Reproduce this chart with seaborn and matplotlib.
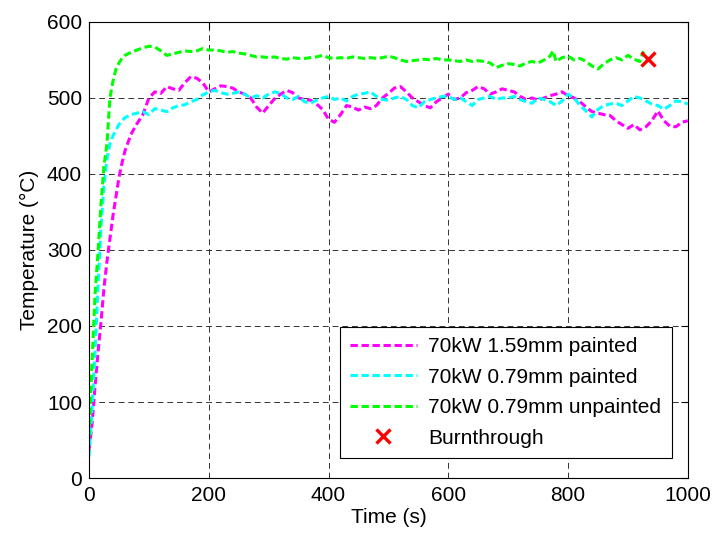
import numpy as np
import pandas as pd
import matplotlib
matplotlib.use("Agg")
import matplotlib.pyplot as plt
import seaborn as sns

# ---- data ----
t_full = [0, 5, 10, 15, 20, 25, 30, 35, 40, 45, 50, 55, 60, 70, 80, 90, 100,
          110, 120, 130, 140, 150, 160, 170, 180, 190, 200, 210, 220, 230, 240,
          250, 260, 270, 280, 290, 300, 310, 320, 330, 340, 350, 360, 370, 380,
          390, 400, 410, 420, 430, 440, 450, 460, 470, 480, 490, 500, 510, 520,
          530, 540, 550, 560, 570, 580, 590, 600, 610, 620, 630, 640, 650, 660,
          670, 680, 690, 700, 710, 720, 730, 740, 750, 760, 770, 780, 790, 800,
          810, 820, 830, 840, 850, 860, 870, 880, 890, 900, 910, 920, 930, 940,
          950, 960, 970, 980, 990, 1000]

temp_159_painted = [37, 70, 120, 165, 205, 250, 285, 315, 345, 370, 395, 414, 430,
                    452, 466, 478, 500, 508, 506, 515, 512, 510, 520, 528, 526, 520,
                    508, 512, 516, 515, 513, 508, 505, 500, 488, 480, 490, 499, 505,
                    510, 507, 500, 498, 497, 492, 485, 472, 468, 478, 490, 488, 484,
                    488, 486, 490, 500, 506, 513, 515, 508, 500, 495, 490, 487, 495,
                    500, 505, 498, 500, 507, 510, 515, 512, 505, 508, 512, 510, 508,
                    502, 498, 500, 497, 500, 503, 505, 508, 503, 500, 495, 488, 482,
                    480, 478, 477, 470, 465, 460, 465, 458, 462, 470, 483, 470, 463,
                    462, 468, 470]

temp_079_painted = [28, 90, 164, 250, 330, 385, 420, 440, 450, 458, 465, 470, 474,
                    478, 480, 482, 478, 486, 484, 482, 487, 490, 491, 495, 498, 504,
                    508, 510, 507, 505, 506, 508, 505, 500, 503, 500, 505, 508, 506,
                    500, 498, 502, 495, 493, 497, 500, 502, 498, 500, 496, 502, 505,
                    506, 508, 502, 498, 497, 500, 502, 498, 490, 487, 495, 498, 500,
                    502, 502, 498, 500, 495, 490, 498, 500, 502, 498, 500, 500, 502,
                    498, 495, 493, 500, 498, 495, 490, 496, 505, 500, 490, 483, 475,
                    485, 490, 492, 493, 490, 496, 502, 500, 496, 492, 490, 485, 490,
                    496, 495, 492]

t_unpainted = [0, 5, 10, 15, 20, 25, 30, 35, 40, 45, 50, 55, 60, 70, 80, 90, 100,
               110, 120, 130, 140, 150, 160, 170, 180, 190, 200, 210, 220, 230, 240,
               250, 260, 270, 280, 290, 300, 310, 320, 330, 340, 350, 360, 370, 380,
               390, 400, 410, 420, 430, 440, 450, 460, 470, 480, 490, 500, 510, 520,
               530, 540, 550, 560, 570, 580, 590, 600, 610, 620, 630, 640, 650, 660,
               670, 680, 690, 700, 710, 720, 730, 740, 750, 760, 770, 775, 780, 790,
               800, 810, 820, 830, 840, 850, 860, 870, 880, 890, 900, 910, 920, 925,
               930]

temp_079_unpainted = [54, 150, 240, 296, 360, 410, 440, 500, 522, 538, 546, 552,
                      556, 560, 563, 566, 568, 567, 562, 556, 558, 560, 562, 561,
                      562, 565, 563, 563, 562, 560, 561, 559, 558, 556, 554, 554,
                      553, 554, 552, 551, 553, 552, 552, 553, 554, 556, 553, 552,
                      553, 552, 554, 553, 552, 553, 552, 553, 555, 553, 550, 548,
                      549, 550, 551, 550, 552, 550, 550, 549, 548, 550, 548, 549,
                      548, 546, 540, 543, 545, 544, 542, 546, 548, 546, 550, 555,
                      562, 548, 553, 555, 550, 552, 548, 542, 538, 545, 550, 553,
                      550, 556, 551, 548, 560, 552]

burn_time = [933]
burn_temp = [551]

series_labels = ["70kW 1.59mm painted", "70kW 0.79mm painted", "70kW 0.79mm unpainted"]
series_colors = ["#ff00ff", "#00ffff", "#00ff00"]

df = pd.concat([
    pd.DataFrame({"time": t_full, "temp": temp_159_painted, "series": series_labels[0]}),
    pd.DataFrame({"time": t_full, "temp": temp_079_painted, "series": series_labels[1]}),
    pd.DataFrame({"time": t_unpainted, "temp": temp_079_unpainted, "series": series_labels[2]}),
], ignore_index=True)

# ---- style (MATLAB-like) ----
sns.set_style("white")
plt.rcParams["font.family"] = ["Liberation Sans", "DejaVu Sans"]
plt.rcParams["xtick.direction"] = "in"
plt.rcParams["ytick.direction"] = "in"
plt.rcParams["text.color"] = "black"
plt.rcParams["axes.labelcolor"] = "black"
plt.rcParams["xtick.color"] = "black"
plt.rcParams["ytick.color"] = "black"
FS = 15

fig = plt.figure(figsize=(7.12, 5.35), dpi=100)
ax = fig.add_axes([0.125, 0.1065, 0.841, 0.8525])

for lab, col in zip(series_labels, series_colors):
    sub = df[df["series"] == lab]
    sns.lineplot(data=sub, x="time", y="temp", ax=ax, color=col, linewidth=2.2,
                 label=lab, estimator=None, sort=False, dashes=False)
for line in ax.get_lines():
    line.set_dashes((2.4, 1.2))

ax.plot(burn_time, burn_temp, linestyle="none", marker="x", color="#ff0000",
        markersize=10, markeredgewidth=2.4, label="Burnthrough")

ax.set_xlim(0, 1000)
ax.set_ylim(0, 600)
ax.set_xticks(np.arange(0, 1001, 200))
ax.set_yticks(np.arange(0, 601, 100))
ax.grid(True, color="0.2", linestyle=(0, (6, 4)), linewidth=0.7)
ax.tick_params(axis="both", labelsize=FS, length=5, width=0.8,
               top=True, right=True, colors="black")
ax.tick_params(axis="x", pad=6)
ax.tick_params(axis="y", pad=5)
for sp in ax.spines.values():
    sp.set_color("black")
    sp.set_linewidth(0.8)

ax.set_xlabel("Time (s)", fontsize=FS, labelpad=2)
ax.set_ylabel("Temperature (°C)", fontsize=FS, labelpad=6)

handles, labels = ax.get_legend_handles_labels()
leg = ax.legend(handles, labels, loc="lower right", bbox_to_anchor=(0.973, 0.044),
                borderaxespad=0, fontsize=FS, handlelength=3.2, labelspacing=0.55,
                frameon=True, fancybox=False, framealpha=1, edgecolor="black",
                borderpad=0.5, handletextpad=0.55)
leg.get_frame().set_linewidth(0.8)

fig.savefig("out.png", dpi=100)
